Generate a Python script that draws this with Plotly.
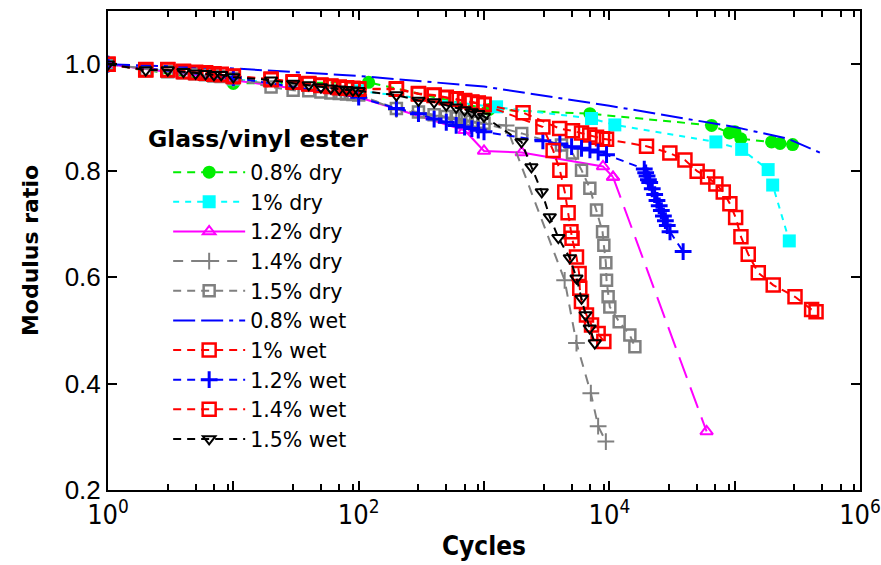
import plotly.graph_objects as go

# ---------------- data ----------------
dry08_x = [1, 10, 120, 1100, 7000, 65400, 90600, 100500, 112000, 197000, 230000, 290000]
dry08_y = [1.0, 0.964, 0.966, 0.915, 0.907, 0.885, 0.871, 0.873, 0.860, 0.854, 0.851, 0.849]

dry10_x = [1, 10, 100, 1260, 7210, 11060, 70800, 113700, 185000, 201000, 272800]
dry10_y = [1.0, 0.972, 0.950, 0.920, 0.898, 0.886, 0.854, 0.840, 0.802, 0.773, 0.668]

dry12_x = [1, 10, 100, 700, 1000, 2000, 8900, 10700, 59700]
dry12_y = [1.0, 0.970, 0.938, 0.876, 0.837, 0.834, 0.808, 0.788, 0.310]

dry14_x = [1, 10, 100, 200, 300, 400, 500, 600, 700, 800, 900, 1000, 1500, 4400, 5470, 7120, 8140, 9380]
dry14_y = [1.0, 0.972, 0.942, 0.915, 0.908, 0.903, 0.900, 0.897, 0.894, 0.892, 0.890, 0.888, 0.885,
           0.594, 0.476, 0.382, 0.320, 0.291]

dry15_x = [1, 2, 3, 4, 5, 6, 7, 8, 10, 20, 30, 40, 50, 60, 70, 80, 90, 100,
           200, 300, 400, 500, 600, 700, 800, 900, 1000,
           2000, 4150, 5080, 6000, 6990, 7900, 8830, 9040, 9380, 9500, 9780, 10090, 11980, 14580, 15990]
dry15_y = [1.0, 0.988, 0.986, 0.984, 0.982, 0.980, 0.978, 0.977, 0.973,
           0.957, 0.951, 0.950, 0.948, 0.946, 0.945, 0.944, 0.943, 0.942,
           0.917, 0.910, 0.905, 0.902, 0.899, 0.896, 0.893, 0.891, 0.889,
           0.870, 0.848, 0.833, 0.801, 0.767, 0.726, 0.685, 0.660, 0.627, 0.594, 0.563, 0.544,
           0.516, 0.491, 0.469]

wet08_x = [1, 10, 100, 1000, 10000, 100000, 266000, 500000]
wet08_y = [1.0, 0.992, 0.978, 0.958, 0.922, 0.882, 0.860, 0.832]

wet10_x = [1, 2, 3, 4, 5, 6, 7, 8, 10, 20, 30, 40, 50, 60, 70, 80, 90, 100,
           200, 300, 400, 500, 600, 700, 800, 900, 1000,
           2050, 4018, 5080, 6000, 6980, 7900, 8830, 9500,
           19800, 30400, 40100, 50200, 60800, 70800, 81100, 91600, 101800, 112200,
           128300, 154300, 203000, 303000, 411000, 446000]
wet10_y = [1.0, 0.990, 0.990, 0.987, 0.985, 0.984, 0.982, 0.981, 0.978,
           0.972, 0.967, 0.964, 0.961, 0.959, 0.957, 0.956, 0.955, 0.954,
           0.954, 0.945, 0.942, 0.938, 0.935, 0.932, 0.929, 0.927, 0.925,
           0.909, 0.879, 0.875, 0.871, 0.867, 0.863, 0.860, 0.859,
           0.846, 0.833, 0.820, 0.799, 0.788, 0.775, 0.760, 0.738, 0.712, 0.676,
           0.643, 0.608, 0.585, 0.563, 0.539, 0.535]

wet12_x = [1, 10, 100, 200, 300, 400, 500, 600, 700, 800, 900, 1000,
           2950, 4030, 5000, 6000, 7000, 8140, 9500,
           19000, 19500, 20000, 20500, 21000, 22000, 23000, 24000, 25000, 26000, 27000,
           28000, 29000, 30500, 38800]
wet12_y = [1.0, 0.975, 0.938, 0.917, 0.907, 0.897, 0.891, 0.885, 0.882, 0.879, 0.876, 0.873,
           0.856, 0.850, 0.845, 0.842, 0.839, 0.835, 0.830,
           0.803, 0.796, 0.790, 0.783, 0.778, 0.766, 0.755, 0.744, 0.734, 0.725, 0.715,
           0.706, 0.697, 0.685, 0.648]

wet14_x = [1, 2, 3, 4, 5, 6, 7, 8, 10, 20, 30, 40, 50, 60, 70, 80, 90, 100,
           200, 300, 400, 500, 600, 700, 800, 900, 1000,
           2950, 3560, 4030, 4410, 4690, 4940, 5040, 5470, 5740, 5810, 5990, 6570, 7210, 8140, 9040]
wet14_y = [1.0, 0.989, 0.989, 0.986, 0.984, 0.983, 0.981, 0.980, 0.977,
           0.971, 0.966, 0.963, 0.960, 0.958, 0.956, 0.955, 0.954, 0.953,
           0.953, 0.944, 0.941, 0.937, 0.934, 0.931, 0.928, 0.926, 0.924,
           0.882, 0.838, 0.801, 0.760, 0.721, 0.685, 0.673, 0.638, 0.607, 0.579, 0.554,
           0.529, 0.510, 0.494, 0.479]

wet15_x = [1, 2, 3, 4, 5, 6, 7, 8, 10, 20, 30, 40, 50, 60, 70, 80, 90, 100,
           200, 300, 400, 500, 600, 700, 800, 900, 1000,
           1990, 2390, 2890, 3350, 3920, 4840, 5470, 6000, 6460, 6980, 7660]
wet15_y = [1.0, 0.989, 0.989, 0.986, 0.983, 0.982, 0.980, 0.980, 0.976,
           0.970, 0.964, 0.961, 0.957, 0.955, 0.953, 0.952, 0.951, 0.950,
           0.942, 0.932, 0.929, 0.923, 0.919, 0.914, 0.910, 0.907, 0.902,
           0.854, 0.807, 0.760, 0.713, 0.674, 0.636, 0.598, 0.560, 0.529, 0.504, 0.476]

x_tick_vals = [1, 10, 100, 1000, 10000, 100000, 1000000]
x_tick_text = ["10<sup>0</sup>", "", "10<sup>2</sup>", "", "10<sup>4</sup>", "", "10<sup>6</sup>"]
x_minor_vals = [m * 10 ** d for d in range(6) for m in (3, 5, 7, 9)]

# ---------------- styles ----------------
GREEN, CYAN, MAGENTA, GRAY = "#00ee00", "#00ffff", "#ff00ff", "#808080"
BLUE, RED, BLACK = "#0000ff", "#ff0000", "#000000"

series = [
    ("0.8% dry", dry08_x, dry08_y, GREEN, "8px,6px", dict(symbol="circle", size=13, color=GREEN)),
    ("1% dry", dry10_x, dry10_y, CYAN, "6px,6px", dict(symbol="square", size=13, color=CYAN)),
    ("1.2% dry", dry12_x[:-1], dry12_y[:-1], MAGENTA, "solid",
     dict(symbol="triangle-up-open", size=11, color=MAGENTA, line=dict(width=2, color=MAGENTA))),
    ("1.4% dry", dry14_x, dry14_y, GRAY, "10px,8px",
     dict(symbol="cross-thin-open", size=12, color=GRAY, line=dict(width=2, color=GRAY))),
    ("1.5% dry", dry15_x, dry15_y, GRAY, "8px,6px",
     dict(symbol="square-open", size=11, color=GRAY, line=dict(width=2.5, color=GRAY))),
    ("0.8% wet", wet08_x, wet08_y, BLUE, "22px,6px,22px,6px,4px,6px", None),
    ("1% wet", wet10_x, wet10_y, RED, "8px,6px",
     dict(symbol="square-open", size=13, color=RED, line=dict(width=2.5, color=RED))),
    ("1.2% wet", wet12_x, wet12_y, BLUE, "8px,6px",
     dict(symbol="cross-thin-open", size=12, color=BLUE, line=dict(width=3, color=BLUE))),
    ("1.4% wet", wet14_x, wet14_y, RED, "8px,6px",
     dict(symbol="square-open", size=13, color=RED, line=dict(width=2.5, color=RED))),
    ("1.5% wet", wet15_x, wet15_y, BLACK, "8px,6px",
     dict(symbol="triangle-down-open", size=11, color=BLACK, line=dict(width=2, color=BLACK))),
]

fig = go.Figure()
for name, xs, ys, col, dash, mk in series:
    if name == "1.2% dry":
        # long-dashed final segment of the 1.2% dry curve
        fig.add_trace(go.Scatter(x=dry12_x[-2:], y=dry12_y[-2:], mode="lines+markers",
                                 line=dict(color=MAGENTA, width=2, dash="22px,10px"),
                                 marker=mk, showlegend=False, hoverinfo="skip"))
    fig.add_trace(go.Scatter(
        x=xs, y=ys, name=name,
        mode="lines+markers" if mk else "lines",
        line=dict(color=col, width=2, dash=dash),
        marker=mk if mk else None,
    ))

fig.add_annotation(text="<b>Glass/vinyl ester</b>", xref="paper", yref="paper",
                   x=0.051, y=0.732, xanchor="left", yanchor="middle", showarrow=False,
                   font=dict(family="DejaVu Sans", size=23.5, color="black"))

axis_common = dict(showline=True, linecolor="black", linewidth=2, mirror="ticks",
                   ticks="inside", tickcolor="black", tickwidth=2, showgrid=False, zeroline=False,
                   automargin=False)

fig.update_layout(
    width=881, height=565,
    margin=dict(l=108, r=21, t=11, b=75),
    paper_bgcolor="white", plot_bgcolor="white",
    xaxis=dict(type="log", range=[0, 6], tickmode="array", tickvals=x_tick_vals, ticktext=x_tick_text,
               ticklen=9, ticklabeloverflow="allow",
               tickfont=dict(family="DejaVu Sans Condensed, Liberation Sans Narrow, sans-serif",
                             size=27, color="black"),
               minor=dict(tickmode="array", tickvals=x_minor_vals, ticks="inside", ticklen=6,
                          tickcolor="black", tickwidth=2),
               title=dict(text="<b>Cycles</b>", standoff=7,
                          font=dict(family="DejaVu Sans Condensed, DejaVu Sans, sans-serif",
                                    size=26, color="black")),
               **axis_common),
    yaxis=dict(range=[0.2, 1.1], tick0=0.2, dtick=0.2, tickformat=".1f", ticklen=9,
               tickfont=dict(family="Liberation Sans, Arial, sans-serif", size=26, color="black"),
               title=dict(text="<b>Modulus ratio</b>", standoff=20,
                          font=dict(family="DejaVu Sans", size=22, color="black")),
               **axis_common),
    legend=dict(x=0.080, y=0.705, xanchor="left", yanchor="top", bgcolor="rgba(0,0,0,0)",
                font=dict(family="DejaVu Sans", size=20.5, color="black"), itemwidth=72,
                traceorder="normal"),
    showlegend=True,
)

# remove the browser's default page margin so the 881x565 figure fills the window exactly
fig.write_html("out.html",
               config={"displayModeBar": False},
               post_script="document.body.style.margin='0';document.body.style.overflow='hidden';")
